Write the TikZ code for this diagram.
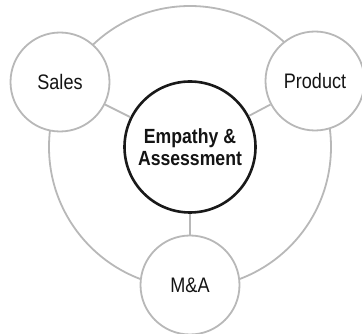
\documentclass[tikz,border=0pt]{standalone}
\usepackage{fontspec}
\setmainfont{Liberation Sans}[FakeStretch=0.86]
\usepackage{tikz}

\begin{document}
\begin{tikzpicture}[x=1pt,y=-1pt,
	ring/.style={draw=black!28, line width=1.8pt, circle, minimum size=282pt, inner sep=0pt},
	area/.style={draw=black!28, line width=1.8pt, fill=white, circle, minimum size=99pt, inner sep=0pt,
		text=black!92, font=\fontsize{21}{25}\selectfont},
	hub/.style={draw=black!90, line width=2.6pt, fill=white, circle, minimum size=131pt, inner sep=0pt,
		text=black!92, align=center, font=\bfseries\fontsize{20.5}{22}\selectfont},
	link/.style={draw=black!28, line width=1.8pt}]
	\useasboundingbox (0,0) rectangle (362,334);

	\node[ring] (ring) at (190,147) {};

	\node[hub] (core) at (190,147) {Empathy \&\\Assessment};
	\node[area] (sales) at (60,82) {Sales};
	\node[area] (product) at (315,81) {Product};
	\node[area] (ma) at (190,285) {M\&A};

	\draw[link] (core) -- (sales);
	\draw[link] (core) -- (product);
	\draw[link] (core) -- (ma);
\end{tikzpicture}
\end{document}
